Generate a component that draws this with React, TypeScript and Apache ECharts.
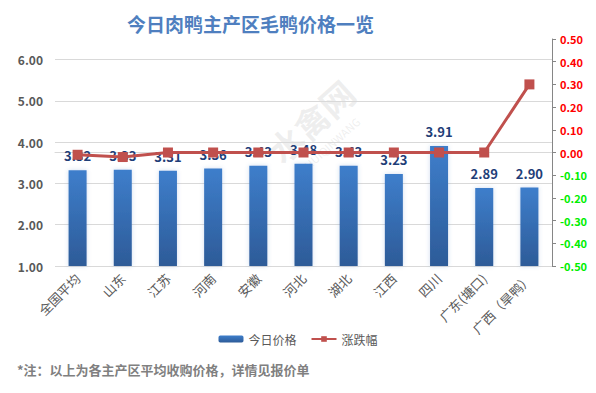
import React, { useEffect, useRef } from "react";
import * as echarts from "echarts";

const categories = ["全国平均", "山东", "江苏", "河南", "安徽", "河北", "湖北", "江西", "四川", "广东(塘口)", "广西（旱鸭）"];
const prices = [3.32, 3.33, 3.31, 3.36, 3.43, 3.48, 3.43, 3.23, 3.91, 2.89, 2.90];
const changes = [-0.01, -0.02, 0.0, 0.0, 0.0, 0.0, 0.0, 0.0, 0.0, 0.0, 0.30];
const titleText = "今日肉鸭主产区毛鸭价格一览";
const noteText = "*注：以上为各主产区平均收购价格，详情见报价单";
const seriesNames = ["今日价格", "涨跌幅"];

const FONT = "'Noto Sans CJK SC', 'Noto Sans', sans-serif";

export default function App() {
  const ref = useRef<HTMLDivElement>(null);
  useEffect(() => {
    if (!ref.current) return;
    const chart = echarts.init(ref.current, null, { renderer: "svg" });
    chart.setOption({
      animation: false,
      backgroundColor: "#ffffff",
      textStyle: { fontFamily: FONT },
      title: {
        text: titleText,
        left: 122,
        top: 9,
        textStyle: { fontSize: 19, fontWeight: "bold", color: "#4f7fbf", fontFamily: FONT },
      },
      graphic: [
        {
          type: "text",
          left: 17,
          top: 363,
          style: { text: noteText, fontSize: 13, fontWeight: "bold", fill: "#808080", fontFamily: FONT },
        },
        {
          type: "group",
          x: 300,
          y: 140,
          rotation: (42 * Math.PI) / 180,
          z: -1,
          children: [
            { type: "text", x: -30, y: -24, style: { text: "水禽网", fontSize: 34, fontWeight: "bold", fill: "rgba(180,180,180,0.22)", fontFamily: FONT } },
            { type: "text", x: -20, y: 18, style: { text: "SHUIQINWANG", fontSize: 11, fill: "rgba(180,180,180,0.22)", fontFamily: FONT } },
          ],
        },
      ],
      legend: {
        data: seriesNames,
        bottom: 43,
        left: "center",
        itemWidth: 25,
        itemHeight: 7,
        itemGap: 14,
        textStyle: { fontSize: 12, color: "#595959", fontFamily: FONT },
      },
      grid: { left: 55, right: 44, top: 39, bottom: 127, containLabel: false },
      xAxis: {
        type: "category",
        data: categories,
        axisLine: { show: true, lineStyle: { color: "#d9d9d9" } },
        axisTick: { show: false },
        axisLabel: { rotate: 45, fontSize: 13, color: "#595959", margin: 10, interval: 0, fontFamily: FONT },
      },
      yAxis: [
        {
          type: "value",
          min: 1,
          max: 6.5,
          interval: 1,
          axisLine: { show: false },
          axisTick: { show: false },
          splitLine: {
            show: true,
            lineStyle: { color: ["#d9d9d9", "#d9d9d9", "#d9d9d9", "#d9d9d9", "#d9d9d9", "#d9d9d9", "rgba(0,0,0,0)"] },
          },
          axisLabel: {
            showMaxLabel: false,
            formatter: (v: number) => v.toFixed(2),
            fontSize: 12,
            fontWeight: "bold",
            color: "#595959",
            margin: 12,
            fontFamily: FONT,
          },
        },
        {
          type: "value",
          min: -0.5,
          max: 0.5,
          interval: 0.1,
          position: "right",
          axisLine: { show: true, lineStyle: { color: "#868686" } },
          axisTick: { show: true, length: 4, lineStyle: { color: "#868686" } },
          splitLine: { show: false },
          axisLabel: {
            formatter: (v: number) => v.toFixed(2),
            fontSize: 11,
            fontWeight: "bold",
            margin: 8,
            color: (v: any) => (Number(v) < -1e-9 ? "#00ee00" : "#ff0000"),
            fontFamily: FONT,
          },
        },
      ],
      series: [
        {
          name: seriesNames[0],
          type: "bar",
          data: prices,
          barWidth: 18,
          yAxisIndex: 0,
          itemStyle: {
            color: new echarts.graphic.LinearGradient(0, 0, 0, 1, [
              { offset: 0, color: "#3e7ecb" },
              { offset: 1, color: "#2d5b98" },
            ]),
            shadowColor: "rgba(60,110,190,0.25)",
            shadowBlur: 4,
          },
          label: {
            show: true,
            position: "top",
            distance: 8,
            formatter: (p: any) => Number(p.value).toFixed(2),
            fontSize: 13,
            fontWeight: "bold",
            color: "#1f3e78",
            fontFamily: FONT,
          },
          z: 2,
        },
        {
          name: seriesNames[1],
          type: "line",
          data: changes,
          yAxisIndex: 1,
          symbol: "rect",
          symbolSize: 10,
          lineStyle: { color: "#c0504d", width: 3 },
          itemStyle: { color: "#c0504d" },
          z: 3,
        },
      ],
    });
    return () => chart.dispose();
  }, []);
  return <div ref={ref} style={{ width: 596, height: 393, position: "absolute", left: 0, top: 0 }} />;
}
